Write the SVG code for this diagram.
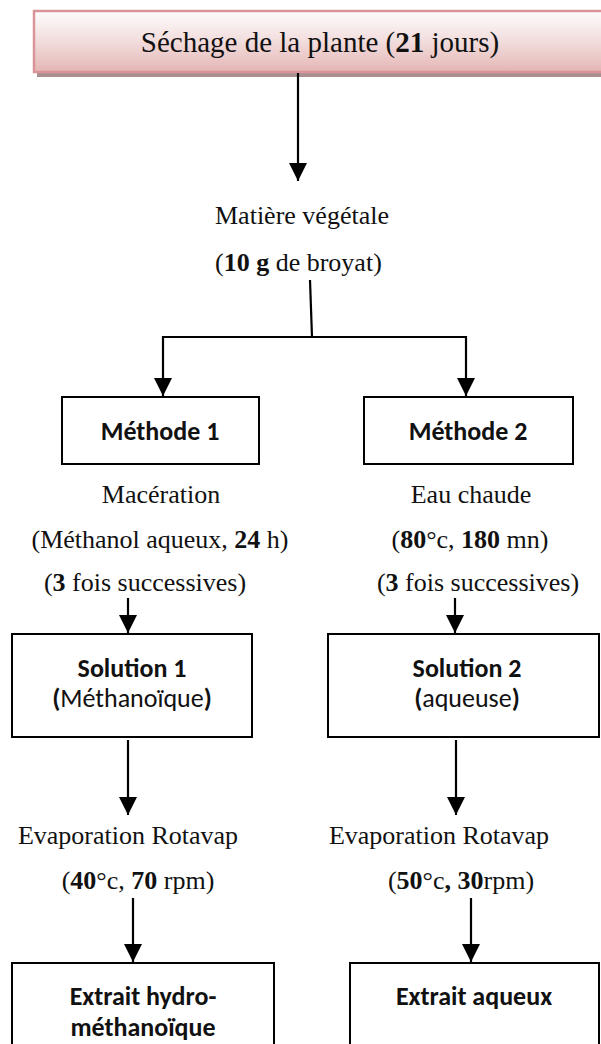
<svg xmlns="http://www.w3.org/2000/svg" width="601" height="1044" viewBox="0 0 601 1044">
<style>
.serif{font-family:"Liberation Serif","Times New Roman",serif;font-size:26px;fill:#111}
.top{font-size:29px}
.sans{font-family:Calibri,Carlito,Lato,"Open Sans",sans-serif;font-size:26px;fill:#111}
.b{font-weight:bold}
.box{fill:#fff;stroke:#000;stroke-width:2}
.conn line,.conn path{stroke:#000;stroke-width:2.2;fill:none}
.arrow{marker-end:url(#ah)}
</style>
<defs>
<linearGradient id="pink" x1="0" y1="0" x2="0" y2="1">
<stop offset="0" stop-color="#fefdfd"/>
<stop offset="0.5" stop-color="#f2dcdc"/>
<stop offset="1" stop-color="#e4b6b5"/>
</linearGradient>
<marker id="ah" markerUnits="userSpaceOnUse" markerWidth="18" markerHeight="18" viewBox="0 0 16 16" refX="16" refY="8" orient="auto">
<path d="M0,0 L16,8 L0,16 Z" fill="#000"/>
</marker>
</defs>

<g id="n-sechage">
<rect x="37" y="16" width="570" height="61" fill="#a89090"/>
<rect x="34" y="11" width="572" height="61" fill="url(#pink)" stroke="#d9959a" stroke-width="2.5"/>
<text class="serif top" x="320" y="52" text-anchor="middle">Séchage de la plante (<tspan class="b">21</tspan> jours)</text>
</g>

<g id="n-matiere">
<text class="serif" x="215" y="224">Matière végétale</text>
<text class="serif" x="215" y="271">(<tspan class="b">10 g</tspan> de broyat)</text>
</g>

<g id="n-methode1">
<rect class="box" x="62" y="397" width="197" height="67"/>
<text class="sans b" x="160" y="440" text-anchor="middle">Méthode 1</text>
</g>

<g id="n-methode2">
<rect class="box" x="364" y="397" width="209" height="67"/>
<text class="sans b" x="468" y="440" text-anchor="middle">Méthode 2</text>
</g>

<g id="t-maceration">
<text class="serif" x="161" y="503" text-anchor="middle">Macération</text>
<text class="serif" x="160" y="548" text-anchor="middle">(Méthanol aqueux, <tspan class="b">24</tspan> h)</text>
<text class="serif" x="145" y="591" text-anchor="middle">(<tspan class="b">3</tspan> fois successives)</text>
</g>

<g id="t-eauchaude">
<text class="serif" x="471" y="503" text-anchor="middle">Eau chaude</text>
<text class="serif" x="470" y="548" text-anchor="middle">(<tspan class="b">80</tspan>°c, <tspan class="b">180</tspan> mn)</text>
<text class="serif" x="478" y="591" text-anchor="middle">(<tspan class="b">3</tspan> fois successives)</text>
</g>

<g id="n-solution1">
<rect class="box" x="12" y="634" width="240" height="103"/>
<text class="sans b" x="132" y="677" text-anchor="middle">Solution 1</text>
<text class="sans" x="132" y="707" text-anchor="middle"><tspan class="b">(</tspan>Méthanoïque<tspan class="b">)</tspan></text>
</g>

<g id="n-solution2">
<rect class="box" x="328" y="634" width="271" height="103"/>
<text class="sans b" x="467" y="677" text-anchor="middle">Solution 2</text>
<text class="sans" x="467" y="707" text-anchor="middle"><tspan class="b">(</tspan>aqueuse<tspan class="b">)</tspan></text>
</g>

<g id="t-evap1">
<text class="serif" x="128" y="844" text-anchor="middle">Evaporation Rotavap</text>
<text class="serif" x="138" y="889" text-anchor="middle">(<tspan class="b">40</tspan>°c, <tspan class="b">70</tspan> rpm)</text>
</g>

<g id="t-evap2">
<text class="serif" x="439" y="844" text-anchor="middle">Evaporation Rotavap</text>
<text class="serif" x="461" y="889" text-anchor="middle">(<tspan class="b">50</tspan>°c<tspan class="b">, 30</tspan>rpm)</text>
</g>

<g id="n-extrait1">
<rect class="box" x="12" y="963" width="262" height="100"/>
<text class="sans b" x="143" y="1005" text-anchor="middle">Extrait hydro-</text>
<text class="sans b" x="143" y="1036" text-anchor="middle">méthanoïque</text>
</g>

<g id="n-extrait2">
<rect class="box" x="350" y="963" width="249" height="100"/>
<text class="sans b" x="474" y="1005" text-anchor="middle">Extrait aqueux</text>
</g>

<g id="connectors" class="conn">
<line class="arrow" x1="298" y1="73" x2="298" y2="181"/>
<line x1="310" y1="280" x2="312" y2="337"/>
<line x1="162" y1="337" x2="467" y2="337"/>
<line class="arrow" x1="163" y1="336" x2="163" y2="396"/>
<line class="arrow" x1="466" y1="336" x2="466" y2="396"/>
<line class="arrow" x1="128" y1="598" x2="128" y2="633"/>
<line class="arrow" x1="455" y1="598" x2="455" y2="633"/>
<line class="arrow" x1="128" y1="740" x2="128" y2="815"/>
<line class="arrow" x1="456" y1="740" x2="456" y2="815"/>
<line class="arrow" x1="133" y1="898" x2="133" y2="962"/>
<line class="arrow" x1="471" y1="898" x2="471" y2="962"/>
</g>
</svg>
